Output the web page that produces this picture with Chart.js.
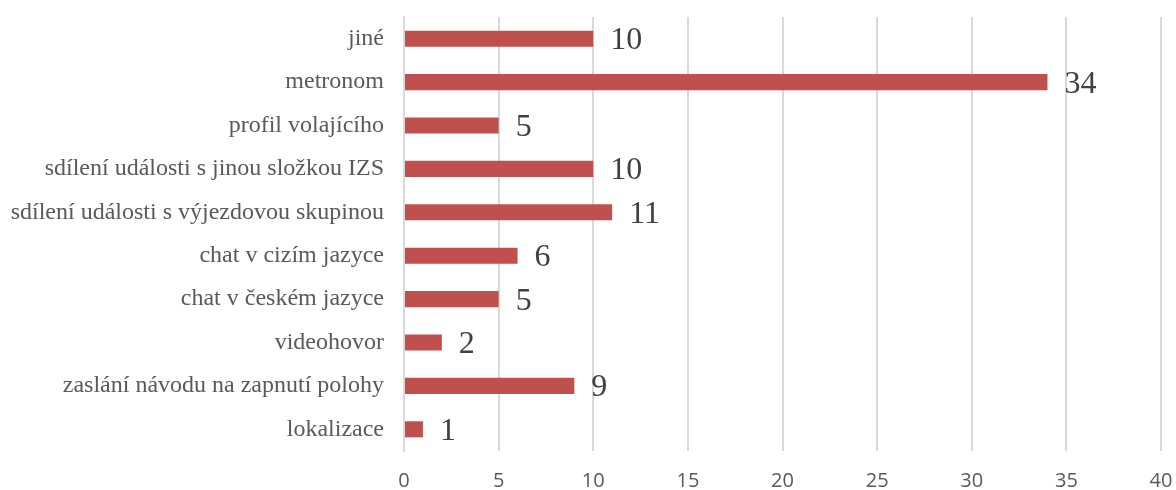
<!DOCTYPE html>
<html>
<head>
<meta charset="utf-8">
<script src="https://cdn.jsdelivr.net/npm/chart.js@4/dist/chart.umd.min.js"></script>
<style>
  html, body { margin: 0; padding: 0; background: #fff; }
  #wrap { width: 1176px; height: 490px; }
</style>
</head>
<body>
<div id="wrap"><canvas id="chart" width="1176" height="490"></canvas></div>
<script>
// Categories, top to bottom
const categories = [
    'jiné',
    'metronom',
    'profil volajícího',
    'sdílení události s jinou složkou IZS',
    'sdílení události s výjezdovou skupinou',
    'chat v cizím jazyce',
    'chat v českém jazyce',
    'videohovor',
    'zaslání návodu na zapnutí polohy',
    'lokalizace'
];
const counts = [10, 34, 5, 10, 11, 6, 5, 2, 9, 1];
const xTicks = [0, 5, 10, 15, 20, 25, 30, 35, 40];

/* ── value labels at the bar ends ── */
const valueLabels = {
    id: 'valueLabels',
    afterDatasetsDraw(chart) {
        const ctx = chart.ctx;
        const meta = chart.getDatasetMeta(0);
        ctx.save();
        ctx.font = '32px "Liberation Serif", "Times New Roman", serif';
        ctx.fillStyle = '#404040';
        ctx.textAlign = 'left';
        ctx.textBaseline = 'middle';
        meta.data.forEach((bar, i) => {
            ctx.fillText(String(counts[i]), bar.x + 17, bar.y + 2);
        });
        ctx.restore();
    }
};

const ctx = document.getElementById('chart').getContext('2d');
new Chart(ctx, {
    type: 'bar',
    data: {
        labels: categories,
        datasets: [{
            data: counts,
            backgroundColor: '#c0504d',
            borderWidth: 0,
            barPercentage: 0.37,
            categoryPercentage: 1
        }]
    },
    options: {
        indexAxis: 'y',
        responsive: false,
        animation: false,
        layout: { padding: { top: 17, right: 15, left: 0, bottom: 0 } },
        scales: {
            x: {
                min: 0,
                max: 40,
                afterBuildTicks: (axis) => { axis.ticks = xTicks.map(v => ({ value: v })); },
                grid: { color: '#d9d9d9', lineWidth: 2, drawTicks: false },
                border: { display: false },
                ticks: {
                    padding: 18,
                    color: '#595959',
                    font: { family: '"Open Sans", sans-serif', size: 20 }
                },
                afterFit: (axis) => {
                    axis.height = 39;
                    axis.paddingLeft = 0;
                    axis.paddingRight = 0;
                }
            },
            y: {
                grid: { display: false, drawTicks: false },
                border: { display: true, color: '#d9d9d9', width: 2 },
                ticks: {
                    padding: 20,
                    color: '#595959',
                    font: { family: '"Liberation Serif", "Times New Roman", serif', size: 24 }
                },
                afterFit: (axis) => {
                    axis.width = 404;
                    axis.paddingTop = 0;
                    axis.paddingBottom = 0;
                }
            }
        },
        plugins: {
            legend: { display: false },
            tooltip: { enabled: false }
        }
    },
    plugins: [valueLabels]
});
</script>
</body>
</html>
